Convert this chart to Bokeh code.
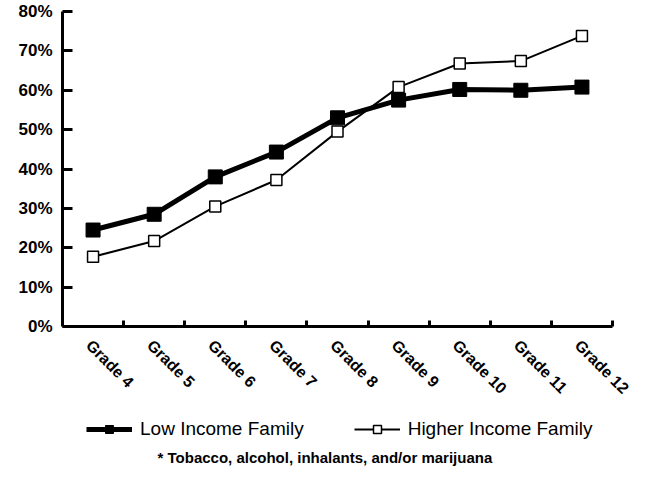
import math
from bokeh.plotting import figure
from bokeh.layouts import column
from bokeh.models import (Range1d, LinearAxis, FixedTicker, Label,
                          PrintfTickFormatter, Legend, LegendItem)
from bokeh.embed import file_html
from bokeh.resources import INLINE

grades = ["Grade 4", "Grade 5", "Grade 6", "Grade 7", "Grade 8",
          "Grade 9", "Grade 10", "Grade 11", "Grade 12"]
low_income = [24.5, 28.5, 38.0, 44.3, 53.0, 57.5, 60.2, 60.0, 60.8]
higher_income = [17.7, 21.7, 30.5, 37.2, 49.5, 60.8, 66.8, 67.4, 73.8]
y_ticks = [0, 10, 20, 30, 40, 50, 60, 70, 80]
series_names = ["Low Income Family", "Higher Income Family"]
footnote = "* Tobacco, alcohol, inhalants, and/or marijuana"

FONT = "Liberation Sans"

# category slots: centre of slot i is i + 0.5, boundaries at integers
xc = [i + 0.5 for i in range(len(grades))]
boundary_ticks = list(range(1, len(grades) + 1))
label_pos = [c - 0.07 for c in xc]

LOW_STYLE = dict(line_width=5, line_color="black")
LOW_MARK = dict(marker="square", size=14, fill_color="black", line_color="black")
HI_STYLE = dict(line_width=2, line_color="black")
HI_MARK = dict(marker="square", size=11, fill_color="white", line_color="black", line_width=1.5)

p = figure(width=634, height=405,
           x_range=Range1d(0, len(grades)),
           y_range=Range1d(0, 80),
           output_backend="svg", toolbar_location=None,
           x_axis_location=None, y_axis_location="left",
           min_border_left=62, min_border_right=22,
           min_border_top=11, min_border_bottom=78)
p.outline_line_color = None
p.xgrid.visible = False
p.ygrid.visible = False
p.background_fill_color = "white"
p.border_fill_color = "white"

# y axis
ya = p.yaxis[0]
ya.ticker = FixedTicker(ticks=y_ticks)
ya.formatter = PrintfTickFormatter(format="%d%%")
ya.major_tick_in = 10
ya.major_tick_out = 0
ya.minor_tick_line_color = None
ya.axis_line_width = 3
ya.major_tick_line_width = 3
ya.major_label_standoff = 10
ya.major_label_text_font = FONT
ya.major_label_text_font_style = "bold"
ya.major_label_text_font_size = "17px"
ya.major_label_text_color = "black"

# x axis: line + ticks at category boundaries (no labels of its own)
tick_axis = LinearAxis(ticker=FixedTicker(ticks=boundary_ticks),
                       major_label_overrides={t: "" for t in boundary_ticks},
                       major_tick_in=6, major_tick_out=0,
                       minor_tick_line_color=None,
                       axis_line_width=3, major_tick_line_width=3,
                       major_label_text_font_size="0px", major_label_standoff=0)
p.add_layout(tick_axis, "below")

# x axis labels at category centres
label_axis = LinearAxis(ticker=FixedTicker(ticks=label_pos),
                        major_label_overrides={c: g for c, g in zip(label_pos, grades)},
                        axis_line_color=None, major_tick_line_color=None,
                        minor_tick_line_color=None,
                        major_label_orientation=-math.pi / 4,
                        major_label_standoff=10,
                        major_label_text_font=FONT,
                        major_label_text_font_style="bold",
                        major_label_text_font_size="16px",
                        major_label_text_color="black")
p.add_layout(label_axis, "below")

p.line(xc, higher_income, **HI_STYLE)
p.scatter(xc, higher_income, **HI_MARK)
p.line(xc, low_income, **LOW_STYLE)
p.scatter(xc, low_income, **LOW_MARK)

# legend + footnote strip (its frame is aligned with the chart frame: x 62..612)
q = figure(width=634, height=61, x_range=Range1d(100, 101), y_range=Range1d(100, 101),
           output_backend="svg", toolbar_location=None,
           x_axis_location=None, y_axis_location=None,
           min_border=0)
q.outline_line_color = None
q.xgrid.visible = False
q.ygrid.visible = False
q.border_fill_color = "white"
q.background_fill_color = "white"

l_line = q.line(xc, low_income, **LOW_STYLE)
l_pts = q.scatter(xc, low_income, **LOW_MARK)
h_line = q.line(xc, higher_income, **HI_STYLE)
h_pts = q.scatter(xc, higher_income, **HI_MARK)

legend = Legend(items=[LegendItem(label=series_names[0], renderers=[l_line, l_pts]),
                       LegendItem(label=series_names[1], renderers=[h_line, h_pts])],
                orientation="horizontal", location=(24, 26),
                glyph_width=46, glyph_height=20, label_standoff=8, spacing=50,
                padding=0, margin=0, border_line_color=None, background_fill_alpha=0,
                label_text_font=FONT, label_text_font_size="19px",
                label_text_color="black")
q.add_layout(legend, "center")

note = Label(x=95, y=9, x_units="screen", y_units="screen", text=footnote,
             text_font=FONT, text_font_style="bold", text_font_size="15px",
             text_baseline="middle", text_color="black")
q.add_layout(note)

layout = column(p, q, spacing=0)
open("out.html", "w").write(file_html(layout, INLINE))
